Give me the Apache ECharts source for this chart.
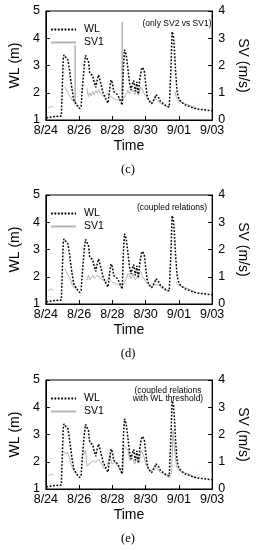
<!DOCTYPE html>
<html><head><meta charset="utf-8">
<script src="https://cdn.jsdelivr.net/npm/echarts@6/dist/echarts.min.js"></script>
<style>html,body{margin:0;padding:0;background:#fff}#c{width:258px;height:550px}</style>
</head><body><div id="c"></div>
<script>
// ---- data ----
const tickLabels = ['8/24','8/26','8/28','8/30','9/01','9/03']; // x = days since 8/24
const wl = [[0.03,1.08],[0.45,1.12],[0.93,1.15],[0.99,1.2],[1.05,3.3],[1.09,3.39],[1.19,3.3],[1.32,3.22],[1.41,2.9],[1.49,2.5],[1.58,2.1],[1.67,1.75],[1.85,1.55],[2.03,1.42],[2.12,1.5],[2.2,2.2],[2.31,3.0],[2.39,3.37],[2.47,3.3],[2.56,3.15],[2.64,2.72],[2.82,2.62],[2.92,2.35],[3.0,2.2],[3.08,2.45],[3.17,2.65],[3.26,2.45],[3.44,2.0],[3.62,1.75],[3.74,1.62],[3.83,2.1],[3.92,2.47],[4.01,2.35],[4.08,2.05],[4.19,2.0],[4.32,1.92],[4.45,1.75],[4.59,1.55],[4.67,3.0],[4.73,3.58],[4.83,3.4],[4.94,2.85],[5.03,2.36],[5.12,2.1],[5.2,2.3],[5.29,2.45],[5.38,2.05],[5.47,2.4],[5.56,1.95],[5.65,2.5],[5.74,2.85],[5.82,2.93],[5.92,2.8],[6.01,2.3],[6.09,1.9],[6.18,1.72],[6.36,1.6],[6.48,1.58],[6.55,1.8],[6.62,1.93],[6.71,1.9],[6.8,1.8],[6.89,1.68],[7.07,1.6],[7.24,1.52],[7.42,1.48],[7.48,1.5],[7.53,3.0],[7.59,4.24],[7.67,4.1],[7.73,3.6],[7.8,2.8],[7.88,2.1],[7.95,1.86],[8.04,1.73],[8.21,1.63],[8.39,1.55],[8.66,1.49],[8.92,1.43],[9.27,1.39],[9.63,1.37],[9.98,1.34]];
const svC = [[0.15,0.45],[0.25,0.52],[0.35,0.5],[0.45,0.47],[0.5,null],[1.14,1.22],[1.23,1.1],[1.32,1.04],[1.41,0.92],[1.58,0.73],[1.67,0.67],[1.75,0.62],[1.76,2.75],[1.78,0.6],[1.85,0.55],[1.94,0.5],[2.04,0.45],[2.2,null],[2.47,1.16],[2.56,0.86],[2.64,1.0],[2.73,0.88],[2.82,1.05],[2.91,0.92],[3.0,1.08],[3.09,0.98],[3.17,1.12],[3.26,1.05],[3.35,0.92],[3.53,0.86],[3.7,0.98],[3.79,0.9],[3.88,0.86],[4.06,0.8],[4.23,0.73],[4.41,0.8],[4.56,0.67],[4.59,3.6],[4.62,0.7],[4.85,0.98],[4.94,1.1],[5.03,0.98],[5.12,0.92],[5.24,1.1],[5.35,0.92],[5.47,1.1],[5.56,0.92],[5.71,1.22],[5.82,1.1],[5.95,0.92],[6.09,0.8],[6.27,0.67],[6.41,0.61],[6.56,0.8],[6.71,0.73],[6.89,0.61],[7.07,0.55],[7.24,0.49],[7.42,0.43],[7.6,null],[7.77,1.04],[7.86,0.8],[8.04,0.67],[8.3,0.61],[8.57,0.55],[8.83,0.49],[9.1,0.43],[9.2,null],[9.26,0.7],[9.29,0.72]];
const svD = [[0.15,0.5],[0.25,0.57],[0.35,0.55],[0.45,0.5],[0.5,null],[1.14,1.31],[1.32,1.06],[1.5,0.88],[1.58,0.7],[1.76,0.58],[1.94,0.51],[2.2,null],[2.47,0.88],[2.56,1.06],[2.64,0.88],[2.82,1.06],[2.91,0.94],[3.09,1.06],[3.26,0.94],[3.44,0.88],[3.62,0.82],[3.79,0.94],[3.97,0.82],[4.15,0.76],[4.32,0.7],[4.43,0.76],[4.59,0.64],[4.85,0.94],[4.94,1.12],[5.12,0.94],[5.24,1.12],[5.38,0.88],[5.56,1.06],[5.71,1.19],[5.82,1.0],[6.01,0.82],[6.18,0.7],[6.36,0.64],[6.54,0.7],[6.62,0.76],[6.8,0.7],[6.98,0.58],[7.15,0.51],[7.33,0.45],[7.6,null],[7.82,0.82],[7.95,0.7],[8.21,0.64],[8.48,0.58],[8.74,0.51],[9.0,0.45],[9.2,null],[9.26,0.7],[9.29,0.72]];
const svE = [[0.15,0.5],[0.25,0.57],[0.35,0.55],[0.45,0.5],[0.5,null],[1.05,1.4],[1.19,1.28],[1.32,1.34],[1.41,1.16],[1.58,0.79],[1.76,0.6],[1.94,0.48],[2.1,null],[2.29,1.28],[2.38,1.41],[2.47,0.85],[2.64,0.92],[2.82,1.04],[3.0,0.98],[3.17,1.1],[3.35,0.92],[3.53,0.73],[3.7,0.85],[3.85,1.28],[3.97,0.92],[4.15,0.98],[4.32,0.85],[4.5,0.67],[4.63,0.62],[4.67,1.6],[4.8,1.55],[4.94,1.41],[5.06,1.04],[5.2,1.16],[5.35,0.91],[5.47,1.16],[5.6,0.98],[5.74,1.41],[5.88,1.22],[6.01,0.91],[6.18,0.73],[6.36,0.67],[6.54,0.85],[6.71,0.73],[6.89,0.6],[7.07,0.55],[7.24,0.48],[7.42,0.42],[7.56,0.6],[7.65,2.15],[7.73,1.53],[7.86,0.79],[8.04,0.67],[8.3,0.6],[8.57,0.55],[8.83,0.48],[9.1,0.42],[9.2,null],[9.26,0.7],[9.29,0.72]];
const svSets = [svC, svD, svE];
const notes = [['(only SV2 vs SV1)'], ['(coupled relations)'], ['(coupled relations','with WL threshold)']];
const panelLabels = ['(c)', '(d)', '(e)'];
const wlRange = [1, 5], svRange = [0, 4];

// ---- layout ----
const tops = [11, 195, 380];
const plotH = 109;
const F = 'Liberation Sans, Arial, sans-serif';
const noteX = [177, 172, 168];

const grid = [], xAxis = [], yAxis = [], series = [], legend = [], graphic = [];
tops.forEach((top, i) => {
  grid.push({left: 34, right: 36, top: top, height: plotH, show: true, borderColor: '#000', borderWidth: 1, backgroundColor: 'transparent'});
  xAxis.push({type: 'value', gridIndex: i, min: 0, max: 10, interval: 2,
    name: 'Time', nameLocation: 'middle', nameGap: 19,
    nameTextStyle: {fontFamily: F, fontSize: 14, color: '#000'},
    axisLine: {lineStyle: {color: '#000', width: 1}},
    axisTick: {inside: true, length: 4, lineStyle: {color: '#000'}},
    axisLabel: {fontFamily: F, fontSize: 12.5, color: '#000', margin: 4,
      formatter: v => tickLabels[Math.round(v / 2)]},
    splitLine: {show: false}});
  yAxis.push({type: 'value', gridIndex: i, min: wlRange[0], max: wlRange[1], interval: 1, position: 'left',
    name: 'WL (m)', nameLocation: 'middle', nameGap: 16, nameRotate: 90,
    nameTextStyle: {fontFamily: F, fontSize: 14, color: '#000'},
    axisLine: {show: true, lineStyle: {color: '#000', width: 1}},
    axisTick: {inside: true, length: 4, lineStyle: {color: '#000'}},
    axisLabel: {fontFamily: F, fontSize: 12.5, color: '#000', margin: 6},
    splitLine: {show: false}});
  yAxis.push({type: 'value', gridIndex: i, min: svRange[0], max: svRange[1], interval: 1, position: 'right',
    name: 'SV (m/s)', nameLocation: 'middle', nameGap: 16, nameRotate: -90,
    nameTextStyle: {fontFamily: F, fontSize: 14, color: '#000'},
    axisLine: {show: true, lineStyle: {color: '#000', width: 1}},
    axisTick: {inside: true, length: 4, lineStyle: {color: '#000'}},
    axisLabel: {fontFamily: F, fontSize: 12.5, color: '#000', margin: 6},
    splitLine: {show: false}});
  series.push({name: 'WL', type: 'line', xAxisIndex: i, yAxisIndex: 2 * i, data: wl,
    symbol: 'none', z: 3, lineStyle: {color: '#000', width: 1.5, type: [1.8, 1.6]}, itemStyle: {color: '#000'}});
  series.push({name: 'SV1', type: 'line', xAxisIndex: i, yAxisIndex: 2 * i + 1, data: svSets[i],
    symbol: 'none', z: 2, connectNulls: false, lineStyle: {color: '#b4b4b4', width: 1}, itemStyle: {color: '#b4b4b4'}});
  legend.push({left: 45, top: top + 8, orient: 'vertical', itemWidth: 25, itemHeight: 8, itemGap: 2,
    itemStyle: {opacity: 0},
    data: ['WL', 'SV1'], textStyle: {fontFamily: F, fontSize: 10.5, color: '#000', padding: [0, 0, 0, 3]}});
  const nl = notes[i];
  nl.forEach((t, k) => {
    graphic.push({type: 'text', style: {text: t, font: '8.5px ' + F, fill: '#000', textAlign: 'center'},
      position: [noteX[i], top + (nl.length > 1 ? 6 : 8) + k * 8.5]});
  });
  graphic.push({type: 'text', style: {text: panelLabels[i], font: '12.5px "Liberation Serif", serif', fill: '#000', textAlign: 'center', textVerticalAlign: 'middle'},
    position: [128, top + 159]});
});

const chart = echarts.init(document.getElementById('c'), null, {renderer: 'canvas'});
chart.setOption({animation: false, backgroundColor: '#fff', grid, xAxis, yAxis, series, legend, graphic});
</script></body></html>
